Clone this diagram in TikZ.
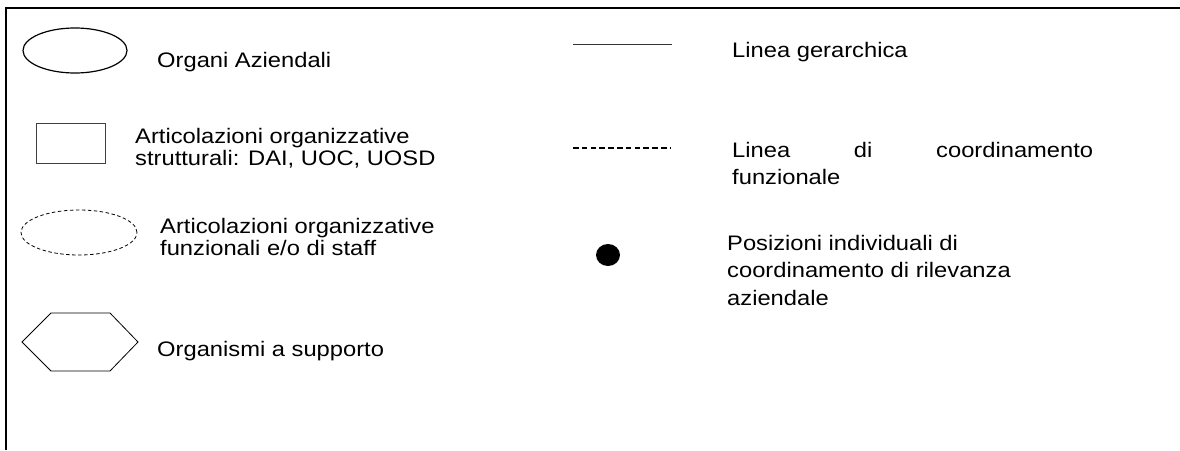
\documentclass[tikz,border=0pt]{standalone}
\usepackage{fontspec}
\setmainfont{Liberation Sans}[FakeStretch=1.13]
\usetikzlibrary{shapes.geometric}
\begin{document}
\begin{tikzpicture}[x=1pt,y=-1pt,
  lbl/.style={anchor=base west,inner sep=0pt,font=\fontsize{21}{22}\selectfont,align=left},
  lblr/.style={anchor=base west,inner sep=0pt,font=\fontsize{21}{27.5}\selectfont,align=left},
  sym/.style={draw=black,line width=0.8pt,inner sep=0pt}]
\useasboundingbox (0,0) rectangle (1180,450);
% frame
\coordinate (ftop) at (1180,8);
\coordinate (fcorner) at (6,8);
\coordinate (fbot) at (6,450);
\draw[line width=2.6pt] (ftop) -- (fcorner) -- (fbot);
% left column
\node[sym,ellipse,line width=1.2pt,minimum width=104pt,minimum height=45pt] (organi) at (75,50.5) {};
\node[lbl] (torgani) at (157,67) {Organi Aziendali};
\node[sym,rectangle,draw=black!75,minimum width=69pt,minimum height=40pt] (strutt) at (70.5,143) {};
\node[lbl] (tstrutt) at (135,165) {Articolazioni organizzative\\strutturali: DAI, UOC, UOSD};
\node[sym,ellipse,dash pattern=on 3.5pt off 2.5pt,minimum width=116pt,minimum height=45pt] (funz) at (79,232.5) {};
\node[lbl] (tfunz) at (160,255) {Articolazioni organizzative\\funzionali e/o di staff};
\coordinate (h1) at (22,342);
\coordinate (h2) at (51,313);
\coordinate (h3) at (110,313);
\coordinate (h4) at (138,342);
\coordinate (h5) at (110,371);
\coordinate (h6) at (51,371);
\draw[line width=0.8pt] (h1) -- (h2) -- (h3) -- (h4) -- (h5) -- (h6) -- cycle;
\node[lbl] (tsupp) at (157,356) {Organismi a supporto};
% right column
\coordinate (ga) at (573,44);
\coordinate (gb) at (672,44);
\draw[line width=1pt,draw=black!80] (ga) -- (gb);
\node[lblr] (tger) at (732,57) {Linea gerarchica};
\coordinate (ca) at (573,148);
\coordinate (cb) at (670,148);
\draw[line width=1.6pt,dash pattern=on 5.5pt off 3.3pt] (ca) -- (cb);
\node[lblr,text width=361pt] (tcoord) at (732,157) {\hbox to 361pt{Linea\hfill di\hfill coordinamento}\\funzionale};
\node[ellipse,fill=black,minimum width=24pt,minimum height=22pt,inner sep=0pt] (pos) at (608,255) {};
\node[lblr] (tpos) at (727,305) {Posizioni individuali di\\coordinamento di rilevanza\\aziendale};
\end{tikzpicture}
\end{document}
